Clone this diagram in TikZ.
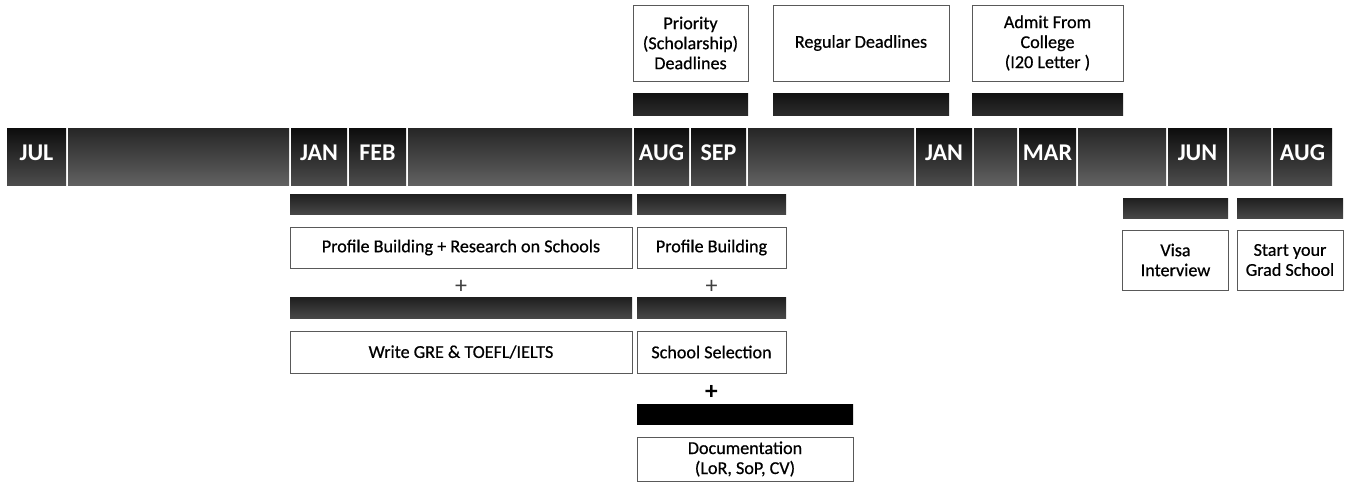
\documentclass[tikz,border=0pt]{standalone}
\usepackage{fontspec}
\setmainfont{Carlito}
\newfontfamily\boxfont{Carlito}[FakeBold=0.6]
\newlength\pxu \setlength\pxu{0.75pt}
\begin{document}
\begin{tikzpicture}[x=0.75pt,y=-0.75pt,
  cell/.style={anchor=north west, minimum height=57\pxu, minimum width=#1\pxu, inner sep=0pt, outer sep=0pt,
     top color=black!85, bottom color=black!62, draw=none},
  lcell/.style={cell=#1, top color=black!95, bottom color=black!70, text=white,
     font=\bfseries\fontsize{18}{18}\selectfont, text depth=8\pxu},
  bar/.style={minimum width=#1\pxu, minimum height=20\pxu, inner sep=0pt, outer sep=0pt,
     top color=black!88, bottom color=black!72, draw=none},
  tbar/.style={bar=#1, minimum height=22\pxu, top color=black!93, bottom color=black!83},
  blackbar/.style={bar=#1, fill=black, top color=black, bottom color=black},
  box/.style={minimum width=#1\pxu, inner sep=0pt, outer sep=0pt, draw=black!65, line width=0.6pt,
     fill=white, align=center, font=\boxfont\fontsize{13.6}{15}\selectfont},
  plus/.style={inner sep=0pt, font=\fontsize{18}{18}\selectfont, text=black!75},
  bplus/.style={inner sep=0pt, font=\bfseries\fontsize{19}{19}\selectfont, text=black}]
\useasboundingbox (0,0) rectangle (1347,483);

% main timeline
\node[lcell=59]  (jul)  at (7,128)    {JUL};
\node[cell=221]  (c2)   at (68,128)   {};
\node[lcell=56]  (jan1) at (291,128)  {JAN};
\node[lcell=57]  (feb)  at (349,128)  {FEB};
\node[cell=224]  (c5)   at (408,128)  {};
\node[lcell=55]  (aug1) at (634,128)  {AUG};
\node[lcell=55]  (sep)  at (691,128)  {SEP};
\node[cell=166]  (c8)   at (748,128)  {};
\node[lcell=56]  (jan2) at (916,128)  {JAN};
\node[cell=43]   (c10)  at (974,128)  {};
\node[lcell=57]  (mar)  at (1019,128) {MAR};
\node[cell=88]   (c12)  at (1078,128) {};
\node[lcell=59]  (jun)  at (1168,128) {JUN};
\node[cell=42]   (c14)  at (1229,128) {};
\node[lcell=59]  (aug2) at (1273,128) {AUG};

% top boxes and bars
\node[box=115, minimum height=76\pxu] (prio) at (690.5,43)
  {Priority\\(Scholarship)\\Deadlines};
\node[box=176, minimum height=76\pxu] (reg) at (861,43) {Regular Deadlines};
\node[box=151, minimum height=76\pxu] (admit) at (1047.5,43)
  {Admit From\\College\\(I20 Letter )};
\node[tbar=115] (prioBar)  at (690.5,104) {};
\node[tbar=176] (regBar)   at (861,104) {};
\node[tbar=151] (admitBar) at (1047.5,104) {};

% lower left column
\node[bar=342] (barA1) at (461,204) {};
\node[box=342, minimum height=41\pxu] (profRes) at (461,247.5)
  {Profile Building + Research on Schools};
\node[plus] (plusA) at (461,287) {+};
\node[bar=342, minimum height=21\pxu] (barA2) at (461,307.5) {};
\node[box=342, minimum height=42\pxu] (gre) at (461,352) {Write GRE \& TOEFL/IELTS};

% lower middle column
\node[bar=149] (barB1) at (711.5,204) {};
\node[box=149, minimum height=41\pxu] (prof) at (711.5,247.5) {Profile Building};
\node[plus] (plusB) at (711.5,287) {+};
\node[bar=149, minimum height=21\pxu] (barB2) at (711.5,307.5) {};
\node[box=149, minimum height=42\pxu] (school) at (711.5,352) {School Selection};
\node[bplus] (plusC) at (711.5,392) {+};
\node[blackbar=216] (barC) at (745,414) {};
\node[box=216, minimum height=44\pxu] (doc) at (745,459)
  {Documentation\\(LoR, SoP, CV)};

% right column
\node[bar=105] (visaBar) at (1175.5,208) {};
\node[bar=106] (gradBar) at (1290,208) {};
\node[box=106, minimum height=60\pxu] (visa) at (1175.5,260) {Visa\\Interview};
\node[box=106, minimum height=60\pxu] (grad) at (1290,260) {Start your\\Grad School};
\end{tikzpicture}
\end{document}
